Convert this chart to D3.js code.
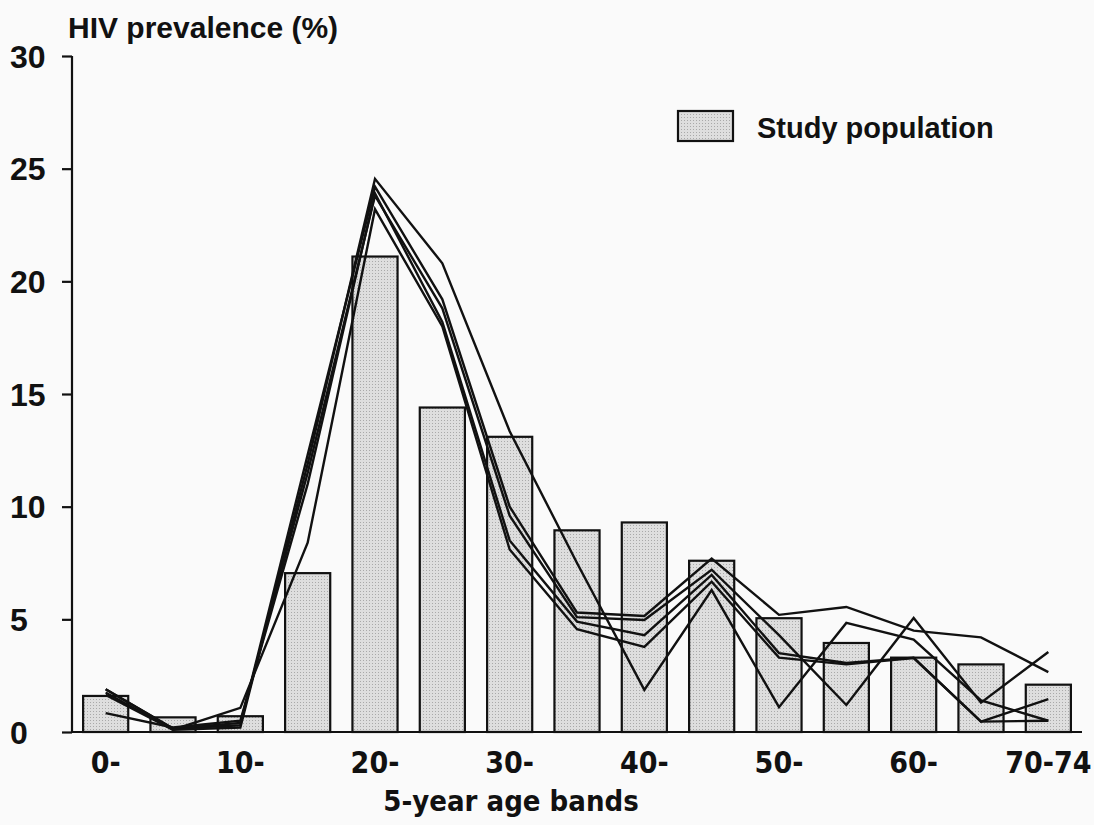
<!DOCTYPE html>
<html>
<head>
<meta charset="utf-8">
<script src="https://cdn.jsdelivr.net/npm/d3@7"></script>
<style>
	body { margin: 0; background: #fafafa; }
	text { font-family: "Liberation Sans", Arial, sans-serif; font-weight: bold; fill: #111; }
	.narrow { font-family: "Liberation Sans Narrow", "DejaVu Sans Condensed", sans-serif; }
</style>
</head>
<body>
<svg id="chart" width="1094" height="825"></svg>
<script>
// age bands, 5 years each
var bands = ["0-", "5-", "10-", "15-", "20-", "25-", "30-", "35-", "40-", "45-", "50-", "55-", "60-", "65-", "70-74"];
var bandLabels = ["0-", "10-", "20-", "30-", "40-", "50-", "60-", "70-74"];

// study population prevalence (%)
var study = [1.6, 0.65, 0.7, 7.05, 21.1, 14.4, 13.1, 8.95, 9.3, 7.6, 5.05, 3.95, 3.3, 3.0, 2.1];

// the five other lines
var line1 = [1.9, 0.15, 0.3, 12.3, 24.2, 19.2, 10.0, 5.3, 5.15, 7.7, 5.2, 5.55, 4.5, 4.2, 2.66];
var line2 = [1.75, 0.1, 0.2, 11.9, 24.55, 20.8, 13.35, 7.5, 1.87, 6.3, 1.1, 4.84, 4.1, 1.4, 0.5];
var line3 = [1.9, 0.15, 0.4, 11.5, 23.8, 18.8, 9.6, 5.1, 4.97, 7.2, 4.3, 1.2, 5.06, 1.3, 3.55];
var line4 = [0.84, 0.2, 0.5, 11.0, 23.9, 18.2, 8.5, 4.9, 4.3, 6.97, 3.5, 3.06, 3.3, 0.46, 1.46];
var line5 = [1.65, 0.1, 1.07, 8.4, 23.2, 18.0, 8.1, 4.56, 3.78, 6.67, 3.3, 3.0, 3.28, 0.46, 0.5];
var lines = [line1, line2, line3, line4, line5];

var yTicks = [0, 5, 10, 15, 20, 25, 30];

var svg = d3.select("#chart");

var mLeft = 72, mRight = 1082, mTop = 56, mBottom = 732;

// stippled grey fill like the printed bars
var pat = svg.append("defs").append("pattern")
	.attr("id", "stipple")
	.attr("width", 3).attr("height", 3)
	.attr("patternUnits", "userSpaceOnUse");
pat.append("rect").attr("width", 3).attr("height", 3).attr("fill", "#dedede");
pat.append("rect").attr("width", 1).attr("height", 1).attr("fill", "#a9a9a9");

var x = d3.scaleBand().domain(bands).range([mLeft, mRight])
	.paddingInner(0.33).paddingOuter(0.165);
var y = d3.scaleLinear().domain([0, 30]).range([mBottom, mTop]);

// bars
svg.selectAll(".bar").data(study).enter().append("rect")
	.attr("class", "bar")
	.attr("x", (d, i) => x(bands[i]))
	.attr("y", d => y(d))
	.attr("width", x.bandwidth())
	.attr("height", d => mBottom - y(d))
	.attr("fill", "url(#stipple)")
	.attr("stroke", "#111")
	.attr("stroke-width", 2.2);

// lines through the band centres
var line = d3.line()
	.x((d, i) => x(bands[i]) + x.bandwidth() / 2)
	.y(d => y(d));

svg.selectAll(".ln").data(lines).enter().append("path")
	.attr("class", "ln")
	.attr("d", line)
	.attr("fill", "none")
	.attr("stroke", "#111")
	.attr("stroke-width", 2.4)
	.attr("stroke-linejoin", "miter");

// y axis
var yAxis = svg.append("g")
	.attr("transform", "translate(" + mLeft + ",0)")
	.call(d3.axisLeft(y).tickValues(yTicks).tickSize(10).tickFormat(""));
yAxis.select(".domain").attr("d", "M0," + mTop + "V" + mBottom).attr("stroke", "#111").attr("stroke-width", 2.2);
yAxis.selectAll(".tick line").attr("stroke", "#111").attr("stroke-width", 2.2);

svg.selectAll(".ylab").data(yTicks).enter().append("text")
	.attr("class", "ylab")
	.attr("x", 10)
	.attr("y", d => y(d))
	.attr("dy", "0.36em")
	.attr("font-size", 32)
	.text(d => d);

// x axis
svg.append("line")
	.attr("x1", mLeft).attr("x2", mRight)
	.attr("y1", mBottom).attr("y2", mBottom)
	.attr("stroke", "#111").attr("stroke-width", 2.2);

svg.selectAll(".xlab").data(bandLabels).enter().append("text")
	.attr("class", "xlab narrow")
	.attr("x", d => x(d) + x.bandwidth() / 2)
	.attr("y", 773)
	.attr("text-anchor", "middle")
	.attr("font-size", 30)
	.text(d => d);

svg.append("text")
	.attr("class", "narrow")
	.attr("x", 511)
	.attr("y", 811)
	.attr("text-anchor", "middle")
	.attr("font-size", 29)
	.text("5-year age bands");

// title
svg.append("text")
	.attr("x", 68)
	.attr("y", 38)
	.attr("font-size", 30)
	.text("HIV prevalence (%)");

// legend
svg.append("rect")
	.attr("x", 678).attr("y", 111)
	.attr("width", 55).attr("height", 30)
	.attr("fill", "url(#stipple)")
	.attr("stroke", "#111")
	.attr("stroke-width", 2.2);
svg.append("text")
	.attr("x", 757)
	.attr("y", 138)
	.attr("font-size", 29)
	.text("Study population");
</script>
</body>
</html>
